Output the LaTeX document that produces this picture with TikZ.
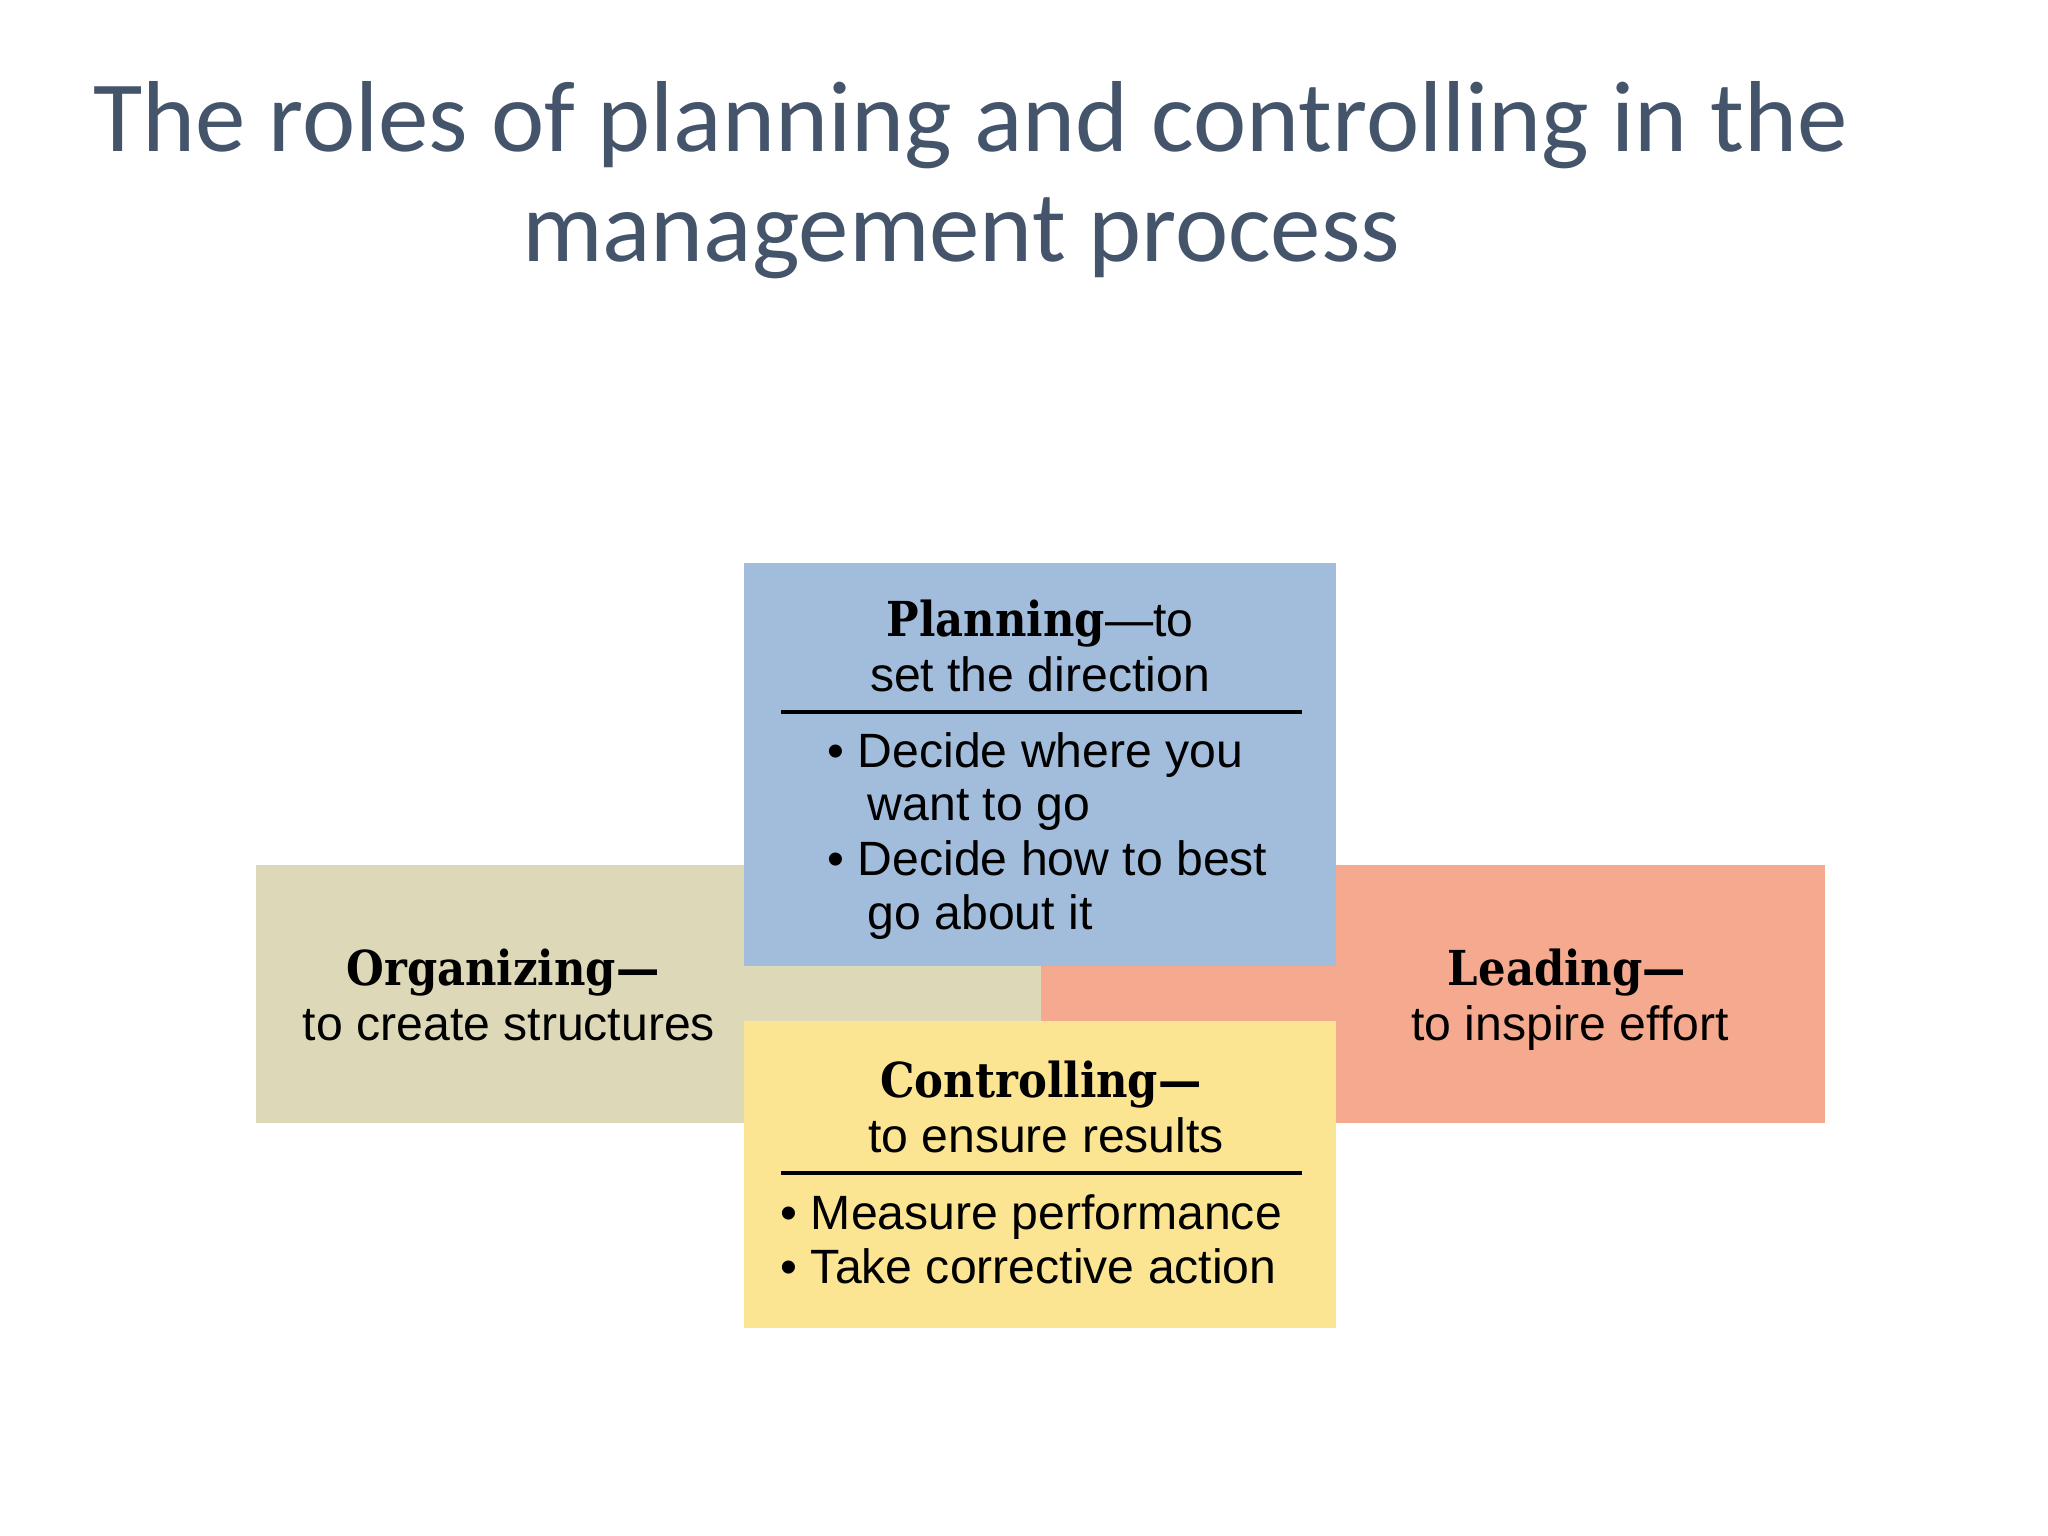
\documentclass[tikz,border=0pt]{standalone}
\usepackage{fontspec}
\setmainfont{Liberation Sans}
\newfontfamily\titlefont{Carlito}
\newfontfamily\headfont[FakeStretch=0.9]{DejaVu Serif}
\definecolor{titlegray}{HTML}{44546A}
\definecolor{planblue}{HTML}{A2BDDB}
\definecolor{orgkhaki}{HTML}{DDD9B8}
\definecolor{leadsalmon}{HTML}{F5A98E}
\definecolor{ctrlyellow}{HTML}{FBE592}
\newcommand\hd[1]{{\headfont\bfseries #1}}
\begin{document}
\begin{tikzpicture}[x=1cm,y=-1cm]
\tikzset{
  box/.style={rectangle, inner sep=0pt, draw=none},
  title/.style={font=\titlefont\fontsize{28.7}{32}\selectfont, text=titlegray, inner sep=0pt},
  body/.style={font=\fontsize{13.7}{15.5}\selectfont, inner sep=0pt},
  rule/.style={line width=0.9pt, black}
}
\useasboundingbox (0,0) rectangle (20.48,15.36);
\fill [white] (0,0) rectangle (20.48,15.36);
% title
\node [title, anchor=base] (title1) at (9.71,1.52) {The roles of planning and controlling in the};
\node [title, anchor=base] (title2) at (9.61,2.62) {management process};
% side boxes
\node [box, fill=orgkhaki, minimum width=7.85cm, minimum height=2.58cm] (org) at (6.485,9.94) {};
\node [box, fill=leadsalmon, minimum width=7.84cm, minimum height=2.58cm] (lead) at (14.33,9.94) {};
% middle boxes
\node [box, fill=planblue, minimum width=5.92cm, minimum height=4.03cm] (plan) at (10.40,7.645) {};
\node [box, fill=ctrlyellow, minimum width=5.92cm, minimum height=3.07cm] (ctrl) at (10.40,11.745) {};
% organizing
\node [body, anchor=base] (org-h1) at (5.03,9.85) {\hd{Organizing—}};
\node [body, anchor=base] (org-h2) at (5.09,10.40) {to create structures};
% leading
\node [body, anchor=base] (lead-h1) at (15.67,9.85) {\hd{Leading—}};
\node [body, anchor=base] (lead-h2) at (15.70,10.40) {to inspire effort};
% planning
\node [body, anchor=base] (plan-h1) at (10.40,6.37) {\hd{Planning}—to};
\node [body, anchor=base] (plan-h2) at (10.40,6.92) {set the direction};
\draw [rule] (7.81,7.12) -- (13.02,7.12);
\node [body, anchor=base west] (plan-b1) at (8.27,7.68) {• Decide where you};
\node [body, anchor=base west] (plan-b2) at (8.67,8.21) {want to go};
\node [body, anchor=base west] (plan-b3) at (8.27,8.75) {• Decide how to best};
\node [body, anchor=base west] (plan-b4) at (8.67,9.30) {go about it};
% controlling
\node [body, anchor=base] (ctrl-h1) at (10.41,10.97) {\hd{Controlling—}};
\node [body, anchor=base] (ctrl-h2) at (10.46,11.52) {to ensure results};
\draw [rule] (7.81,11.73) -- (13.02,11.73);
\node [body, anchor=base west] (ctrl-b1) at (7.80,12.29) {• Measure performance};
\node [body, anchor=base west] (ctrl-b2) at (7.80,12.83) {• Take corrective action};
\end{tikzpicture}
\end{document}
